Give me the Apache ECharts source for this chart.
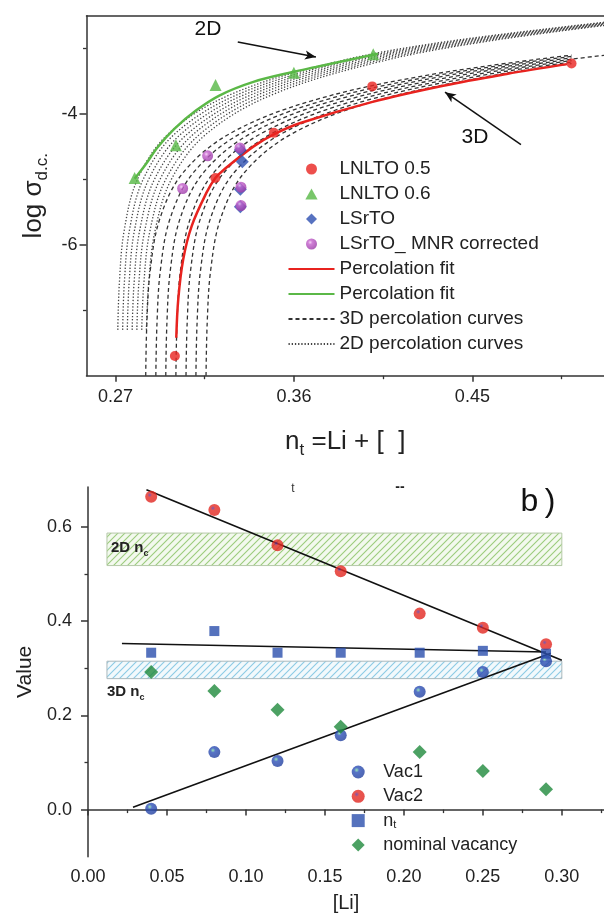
<!DOCTYPE html>
<html lang="en">
<head>
<meta charset="UTF-8">
<title>percolation</title>
<style>
  body, html { margin: 0; padding: 0; background: #fff; }
  #chart { width: 604px; height: 923px; }
</style>
</head>
<body>
<div id="chart"></div>
<script src="https://cdn.jsdelivr.net/npm/echarts@6/dist/echarts.min.js"></script>
<script>
// ---- panel a data ----
var lnlto05 = [[0.300, -7.70], [0.3204, -4.98], [0.3499, -4.29], [0.3995, -3.58], [0.500, -3.23]];
var lnlto06 = [[0.2797, -4.98], [0.3005, -4.48], [0.3205, -3.56], [0.3600, -3.37], [0.4000, -3.09]];
var lsrto = [[0.333, -4.55], [0.334, -4.73], [0.333, -5.15], [0.333, -5.42]];
var lsrtoMnr = [[0.3039, -5.14], [0.3165, -4.64], [0.3328, -4.52], [0.3333, -5.12], [0.3333, -5.40]];

var fitRed = [[0.3007, -7.42], [0.3017, -6.83], [0.3042, -6.22], [0.3085, -5.71], [0.3160, -5.20],
  [0.3204, -4.98], [0.3244, -4.86], [0.3395, -4.50], [0.3501, -4.31], [0.3633, -4.14],
  [0.3992, -3.82], [0.4353, -3.57], [0.4673, -3.39], [0.4976, -3.24]];
var fitGreen = [[0.2797, -4.99], [0.2854, -4.765], [0.2913, -4.51], [0.2997, -4.23], [0.3106, -3.95],
  [0.3224, -3.72], [0.3392, -3.515], [0.3594, -3.36], [0.3711, -3.285], [0.4024, -3.08]];

var curves2D = [
  [[0.27121, -7.3], [0.27197, -6.6], [0.27434, -5.8], [0.28113, -5.0], [0.29690, -4.3], [0.32840, -3.7], [0.38210, -3.2], [0.43600, -2.9], [0.52, -2.588]],
  [[0.27365, -7.3], [0.27447, -6.6], [0.27696, -5.8], [0.28401, -5.0], [0.30014, -4.3], [0.33200, -3.7], [0.38576, -3.2], [0.43940, -2.9], [0.52, -2.595]],
  [[0.27600, -7.3], [0.27687, -6.6], [0.27950, -5.8], [0.28679, -5.0], [0.30330, -4.3], [0.33550, -3.7], [0.38934, -3.2], [0.44267, -2.9], [0.52, -2.603]],
  [[0.27845, -7.3], [0.27938, -6.6], [0.28213, -5.8], [0.28969, -5.0], [0.30654, -4.3], [0.33909, -3.7], [0.39296, -3.2], [0.44603, -2.9], [0.52, -2.611]],
  [[0.28081, -7.3], [0.28179, -6.6], [0.28468, -5.8], [0.29249, -5.0], [0.30970, -4.3], [0.34256, -3.7], [0.39648, -3.2], [0.44919, -2.9], [0.52, -2.619]],
  [[0.28327, -7.3], [0.28431, -6.6], [0.28733, -5.8], [0.29539, -5.0], [0.31296, -4.3], [0.34612, -3.7], [0.40010, -3.2], [0.45249, -2.9], [0.52, -2.628]],
  [[0.28563, -7.3], [0.28673, -6.6], [0.28989, -5.8], [0.29821, -5.0], [0.31611, -4.3], [0.34959, -3.7], [0.40357, -3.2], [0.45565, -2.9], [0.52, -2.636]]
];
var curves3D = [
  [[0.28529, -8.0], [0.28586, -7.2], [0.28753, -6.4], [0.29243, -5.6], [0.30409, -4.9], [0.32781, -4.3], [0.36895, -3.8], [0.42883, -3.4], [0.50, -3.102]],
  [[0.29039, -8.0], [0.29097, -7.2], [0.29264, -6.4], [0.29757, -5.6], [0.30926, -4.9], [0.33308, -4.3], [0.37438, -3.8], [0.43450, -3.4], [0.50, -3.122]],
  [[0.29540, -8.0], [0.29597, -7.2], [0.29765, -6.4], [0.30260, -5.6], [0.31434, -4.9], [0.33826, -4.3], [0.37972, -3.8], [0.44010, -3.4], [0.50, -3.143]],
  [[0.30050, -8.0], [0.30107, -7.2], [0.30276, -6.4], [0.30773, -5.6], [0.31952, -4.9], [0.34353, -4.3], [0.38516, -3.8], [0.44580, -3.4], [0.50, -3.165], [0.52, -3.094]],
  [[0.30560, -8.0], [0.30618, -7.2], [0.30787, -6.4], [0.31286, -5.6], [0.32470, -4.9], [0.34881, -4.3], [0.39061, -3.8], [0.45150, -3.4], [0.50, -3.187]],
  [[0.31060, -8.0], [0.31118, -7.2], [0.31288, -6.4], [0.31789, -5.6], [0.32978, -4.9], [0.35399, -4.3], [0.39594, -3.8], [0.45708, -3.4], [0.50, -3.210]],
  [[0.31570, -8.0], [0.31628, -7.2], [0.31799, -6.4], [0.32302, -5.6], [0.33495, -4.9], [0.35926, -4.3], [0.40140, -3.8], [0.46278, -3.4], [0.50, -3.233]]
];
var arrow2D = [[0.3317, -2.903], [0.3711, -3.132]];
var arrow3D = [[0.4745, -4.47], [0.4362, -3.668]];
var aTicks = [0.27, 0.36, 0.45];
var aMinorTicks = [0.315, 0.405, 0.495];
var aYTicks = [-4, -6];
var aYMinorTicks = [-3, -5, -7];

// ---- panel b data ----
var liX = [0.04, 0.08, 0.12, 0.16, 0.21, 0.25, 0.29];
var vac1 = [0.002, 0.122, 0.103, 0.158, 0.250, 0.292, 0.315];
var vac2 = [0.664, 0.636, 0.561, 0.506, 0.416, 0.386, 0.351];
var nt = [0.333, 0.379, 0.333, 0.333, 0.333, 0.337, 0.331];
var nominal = [0.292, 0.252, 0.212, 0.176, 0.122, 0.082, 0.043];
var fitVac2 = [[0.037, 0.679], [0.300, 0.317]];
var fitVac1 = [[0.0285, 0.005], [0.293, 0.332]];
var fitNt = [[0.0215, 0.3525], [0.290, 0.3346]];
var band2D = [0.012, 0.300, 0.518, 0.587];
var band3D = [0.012, 0.300, 0.278, 0.315];
var bTicks = [0, 0.05, 0.10, 0.15, 0.20, 0.25, 0.30];
var bMinorTicks = [0.025, 0.075, 0.125, 0.175, 0.225, 0.275, 0.325];
var bYTicks = [0, 0.2, 0.4, 0.6];
var bYMinorTicks = [0.1, 0.3, 0.5];

function zip(xs, ys) {
  return xs.map(function (x, i) { return [x, ys[i]]; });
}

function hatch(fg, bg) {
  var c = document.createElement('canvas');
  c.width = 7; c.height = 7;
  var g = c.getContext('2d');
  g.fillStyle = bg;
  g.fillRect(0, 0, 7, 7);
  g.strokeStyle = fg;
  g.lineWidth = 1.1;
  g.beginPath();
  g.moveTo(0, 7); g.lineTo(7, 0);
  g.moveTo(-1, 1); g.lineTo(1, -1);
  g.moveTo(6, 8); g.lineTo(8, 6);
  g.stroke();
  return c;
}

function ball(hi, mid, edge) {
  return new echarts.graphic.RadialGradient(0.38, 0.35, 0.65, [
    { offset: 0, color: hi }, { offset: 0.3, color: mid }, { offset: 1, color: edge }
  ]);
}

var FONT = 'Liberation Sans, Arial, sans-serif';
var axisColor = '#333';
var DIAMOND = 'path://M0,-1L1,0L0,1L-1,0Z';
var TRIANGLE = 'path://M0,-1L1,0.8L-1,0.8Z';
var SQUARE = 'path://M0,0L1,0L1,1L0,1Z';

function majorX(grid, min, max, labels, ticks, digits, margin, name, gap) {
  return {
    gridIndex: grid, type: 'value', min: min, max: max, position: 'bottom',
    axisLine: { lineStyle: { color: axisColor, width: 1.5 } },
    axisTick: { length: 6, customValues: ticks, lineStyle: { color: axisColor, width: 1.5 } },
    axisLabel: { customValues: labels, margin: margin, fontSize: 18, color: '#222', fontFamily: FONT,
      formatter: function (v) { return v.toFixed(digits); } },
    splitLine: { show: false },
    name: name.text, nameLocation: 'middle', nameGap: gap,
    nameTextStyle: name.style
  };
}
function minorAxis(grid, min, max, ticks, position) {
  return {
    gridIndex: grid, type: 'value', min: min, max: max, position: position,
    axisLine: { show: false },
    axisTick: { length: 3.5, customValues: ticks, lineStyle: { color: axisColor, width: 1.3 } },
    axisLabel: { show: false },
    splitLine: { show: false }
  };
}

var dotted = curves2D.map(function (c) {
  return {
    type: 'line', name: '2D percolation curves', xAxisIndex: 0, yAxisIndex: 0,
    data: c, smooth: 0.35, showSymbol: false, symbol: 'none', z: 1,
    itemStyle: { opacity: 0 },
    lineStyle: { color: '#444', width: 1.3, type: [1.3, 1.9] }
  };
});
var dashed = curves3D.map(function (c) {
  return {
    type: 'line', name: '3D percolation curves', xAxisIndex: 0, yAxisIndex: 0,
    data: c, smooth: 0.35, showSymbol: false, symbol: 'none', z: 1,
    itemStyle: { opacity: 0 },
    lineStyle: { color: '#333', width: 1.3, type: [4, 3] }
  };
});

var blackLine = { color: '#111', width: 1.6 };
var subRich = {
  m: { fontSize: 26, lineHeight: 34, color: '#222', fontFamily: FONT },
  s: { fontSize: 17, lineHeight: 17, verticalAlign: 'bottom', color: '#222', fontFamily: FONT }
};
var ncRich = {
  b: { fontSize: 15, fontWeight: 'bold', lineHeight: 20, fontFamily: FONT, fill: '#222' },
  s: { fontSize: 9, fontWeight: 'bold', lineHeight: 9, verticalAlign: 'bottom', fontFamily: FONT, fill: '#222' }
};

var option = {
  animation: false,
  backgroundColor: '#fff',
  textStyle: { fontFamily: FONT },
  grid: [
    { left: 86.5, top: 15.7, width: 517.5, height: 360 },
    { left: 88, top: 486.9, width: 516, height: 369.8 }
  ],
  xAxis: [
    majorX(0, 0.25543, 0.51636, aTicks, aTicks, 2, 12, {
      text: '{m|n}{s|t}{m| =Li + [  ]}', style: { rich: subRich }
    }, 49),
    minorAxis(0, 0.25543, 0.51636, aMinorTicks, 'bottom'),
    {
      gridIndex: 0, type: 'value', min: 0.25543, max: 0.51636, position: 'top',
      axisLine: { lineStyle: { color: axisColor, width: 1.5 } },
      axisTick: { show: false }, axisLabel: { show: false }, splitLine: { show: false }
    },
    majorX(1, 0, 0.3267, bTicks, bTicks, 2, 11, {
      text: '[Li]', style: { fontSize: 20, color: '#222', fontFamily: FONT }
    }, 37),
    minorAxis(1, 0, 0.3267, bMinorTicks, 'bottom')
  ],
  yAxis: [
    {
      gridIndex: 0, type: 'value', min: -8, max: -2.5, position: 'left',
      axisLine: { lineStyle: { color: axisColor, width: 1.5 } },
      axisTick: { length: 7, customValues: aYTicks, lineStyle: { color: axisColor, width: 1.5 } },
      axisLabel: { customValues: aYTicks, margin: 9, fontSize: 18, color: '#222', fontFamily: FONT },
      splitLine: { show: false },
      name: '{m|log σ}{s|d.c.}', nameLocation: 'middle', nameGap: 36,
      nameTextStyle: { rich: subRich }
    },
    minorAxis(0, -8, -2.5, aYMinorTicks, 'left'),
    {
      gridIndex: 1, type: 'value', min: -0.1, max: 0.685, position: 'left',
      axisLine: { lineStyle: { color: axisColor, width: 1.5 } },
      axisTick: { length: 7, customValues: bYTicks, lineStyle: { color: axisColor, width: 1.5 } },
      axisLabel: { customValues: bYTicks, margin: 16, fontSize: 18, color: '#222', fontFamily: FONT,
        formatter: function (v) { return v.toFixed(1); } },
      splitLine: { show: false },
      name: 'Value', nameLocation: 'middle', nameGap: 47,
      nameTextStyle: { fontSize: 21, color: '#222', fontFamily: FONT }
    },
    minorAxis(1, -0.1, 0.685, bYMinorTicks, 'left')
  ],
  legend: [
    {
      orient: 'vertical', left: 282.5, top: 154, itemWidth: 46, itemHeight: 11, itemGap: 5,
      selectedMode: false,
      textStyle: { fontSize: 19, lineHeight: 20, color: '#222', fontFamily: FONT },
      formatter: function (n) { return n.trim(); },
      data: [
        { name: 'LNLTO 0.5', icon: 'circle' },
        { name: 'LNLTO 0.6', icon: TRIANGLE },
        { name: 'LSrTO', icon: DIAMOND },
        { name: 'LSrTO_ MNR corrected', icon: 'circle' },
        'Percolation fit', 'Percolation fit ', '3D percolation curves', '2D percolation curves'
      ]
    },
    {
      orient: 'vertical', left: 346.7, top: 757, itemWidth: 40, itemHeight: 13, itemGap: 4.3,
      selectedMode: false,
      textStyle: { fontSize: 18, lineHeight: 20, color: '#222', fontFamily: FONT,
        rich: {
          m: { fontSize: 18, lineHeight: 20, color: '#222', fontFamily: FONT },
          s: { fontSize: 11, lineHeight: 20, verticalAlign: 'bottom', color: '#222', fontFamily: FONT }
        } },
      formatter: function (n) { return n === 'n_t' ? '{m|n}{s|t}' : n; },
      data: [
        { name: 'Vac1', icon: 'circle' },
        { name: 'Vac2', icon: 'circle' },
        { name: 'n_t', icon: SQUARE },
        { name: 'nominal vacancy', icon: DIAMOND }
      ]
    }
  ],
  graphic: [
    { type: 'text', z: 100, x: 208, y: 29, style: { text: '2D', fontSize: 21, fontFamily: FONT, fill: '#111', align: 'center', verticalAlign: 'middle' } },
    { type: 'text', z: 100, x: 475, y: 137, style: { text: '3D', fontSize: 21, fontFamily: FONT, fill: '#111', align: 'center', verticalAlign: 'middle' } },
    { type: 'text', z: 100, x: 538, y: 502, style: { text: 'b\u2009)', fontSize: 32, fontFamily: FONT, fill: '#111', align: 'center', verticalAlign: 'middle' } },
    { type: 'text', z: 100, x: 293, y: 489, style: { text: 't', fontSize: 12, fontFamily: FONT, fill: '#333', align: 'center', verticalAlign: 'middle' } },
    { type: 'text', z: 100, x: 400, y: 487, style: { text: '--', fontSize: 14, fontWeight: 'bold', fontFamily: FONT, fill: '#222', align: 'center', verticalAlign: 'middle' } },
    { type: 'text', z: 100, x: 111, y: 548, style: { text: '{b|2D n}{s|c}', verticalAlign: 'middle', rich: ncRich } },
    { type: 'text', z: 100, x: 107, y: 692, style: { text: '{b|3D n}{s|c}', verticalAlign: 'middle', rich: ncRich } }
  ],
  series: dotted.concat(dashed).concat([
    {
      type: 'line', name: 'Percolation fit', xAxisIndex: 0, yAxisIndex: 0, data: fitRed,
      smooth: 0.35, showSymbol: false, symbol: 'none', z: 3,
      lineStyle: { color: '#e8231f', width: 2.5 }, itemStyle: { color: '#e8231f', opacity: 0 }
    },
    {
      type: 'line', name: 'Percolation fit ', xAxisIndex: 0, yAxisIndex: 0, data: fitGreen,
      smooth: 0.35, showSymbol: false, symbol: 'none', z: 3,
      lineStyle: { color: '#5bb847', width: 2.5 }, itemStyle: { color: '#5bb847', opacity: 0 }
    },
    {
      type: 'scatter', name: 'LNLTO 0.5', xAxisIndex: 0, yAxisIndex: 0, data: lnlto05,
      symbol: 'circle', symbolSize: 10, z: 5, itemStyle: { color: '#e8231f' },
      markLine: {
        silent: true, symbol: ['none', 'arrow'], symbolSize: [7, 11], label: { show: false },
        lineStyle: { color: '#111', width: 1.5, type: 'solid' },
        data: [
          [{ coord: arrow2D[0] }, { coord: arrow2D[1] }],
          [{ coord: arrow3D[0] }, { coord: arrow3D[1] }]
        ]
      }
    },
    {
      type: 'scatter', name: 'LNLTO 0.6', xAxisIndex: 0, yAxisIndex: 0, data: lnlto06,
      symbol: 'triangle', symbolSize: 12, z: 5, itemStyle: { color: '#56b845' }
    },
    {
      type: 'scatter', name: 'LSrTO', xAxisIndex: 0, yAxisIndex: 0, data: lsrto,
      symbol: 'diamond', symbolSize: 13, z: 5, itemStyle: { color: '#2d4fb0' }
    },
    {
      type: 'scatter', name: 'LSrTO_ MNR corrected', xAxisIndex: 0, yAxisIndex: 0, data: lsrtoMnr,
      symbol: 'circle', symbolSize: 11, z: 6, itemStyle: { color: ball('#f3c6f5', '#c460cc', '#9c3aa8') }
    },
    // panel b
    {
      type: 'line', name: 'fitNt', xAxisIndex: 3, yAxisIndex: 2, data: fitNt,
      showSymbol: false, symbol: 'none', z: 4, lineStyle: blackLine,
      markArea: {
        silent: true,
        data: [
          [{ coord: [band2D[0], band2D[2]], itemStyle: { color: { image: hatch('#9ccc7c', '#f3f9ee'), repeat: 'repeat' }, borderColor: '#b5c9a8', borderWidth: 1 } },
           { coord: [band2D[1], band2D[3]] }],
          [{ coord: [band3D[0], band3D[2]], itemStyle: { color: { image: hatch('#8ccbe4', '#f2f9fc'), repeat: 'repeat' }, borderColor: '#aab8bd', borderWidth: 1 } },
           { coord: [band3D[1], band3D[3]] }]
        ]
      }
    },
    {
      type: 'line', name: 'fitVac2', xAxisIndex: 3, yAxisIndex: 2, data: fitVac2,
      showSymbol: false, symbol: 'none', z: 4, lineStyle: blackLine
    },
    {
      type: 'line', name: 'fitVac1', xAxisIndex: 3, yAxisIndex: 2, data: fitVac1,
      showSymbol: false, symbol: 'none', z: 4, lineStyle: blackLine
    },
    {
      type: 'scatter', name: 'Vac1', xAxisIndex: 3, yAxisIndex: 2, data: zip(liX, vac1),
      symbol: 'circle', symbolSize: 12, z: 5, itemStyle: { color: ball('#7fe0a8', '#2d50b8', '#22409f') }
    },
    {
      type: 'scatter', name: 'Vac2', xAxisIndex: 3, yAxisIndex: 2, data: zip(liX, vac2),
      symbol: 'circle', symbolSize: 12, z: 5, itemStyle: { color: ball('#5b2d98', '#e52a22', '#e0251f') }
    },
    {
      type: 'scatter', name: 'n_t', xAxisIndex: 3, yAxisIndex: 2, data: zip(liX, nt),
      symbol: 'rect', symbolSize: 10, z: 5, itemStyle: { color: '#2b4fac' }
    },
    {
      type: 'scatter', name: 'nominal vacancy', xAxisIndex: 3, yAxisIndex: 2, data: zip(liX, nominal),
      symbol: 'diamond', symbolSize: 14, z: 5, itemStyle: { color: '#1f8a3c' }
    }
  ])
};

var chart = echarts.init(document.getElementById('chart'));
chart.setOption(option);
</script>
</body>
</html>
